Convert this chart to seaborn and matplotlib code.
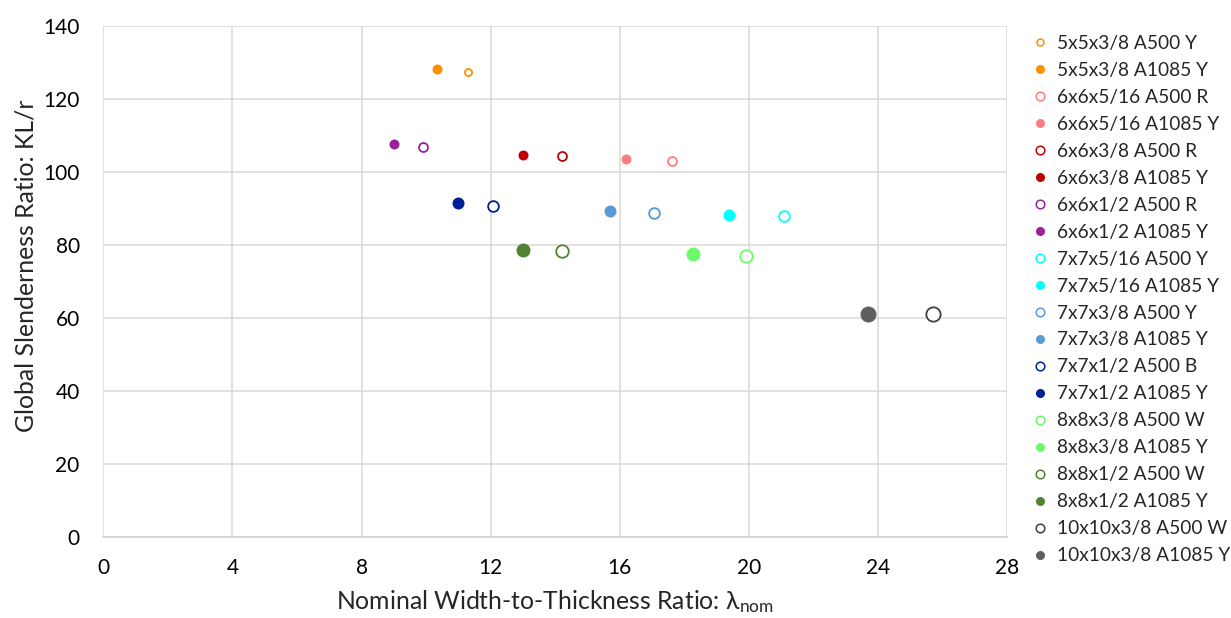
import matplotlib
matplotlib.use("Agg")
import matplotlib.pyplot as plt
from matplotlib.lines import Line2D
import seaborn as sns
import pandas as pd

# Series: section size / steel grade / failure mode
labels = [
    "5x5x3/8 A500 Y", "5x5x3/8 A1085 Y",
    "6x6x5/16 A500 R", "6x6x5/16 A1085 Y",
    "6x6x3/8 A500 R", "6x6x3/8 A1085 Y",
    "6x6x1/2 A500 R", "6x6x1/2 A1085 Y",
    "7x7x5/16 A500 Y", "7x7x5/16 A1085 Y",
    "7x7x3/8 A500 Y", "7x7x3/8 A1085 Y",
    "7x7x1/2 A500 B", "7x7x1/2 A1085 Y",
    "8x8x3/8 A500 W", "8x8x3/8 A1085 Y",
    "8x8x1/2 A500 W", "8x8x1/2 A1085 Y",
    "10x10x3/8 A500 W", "10x10x3/8 A1085 Y",
]
width_thickness = [
    11.29, 10.33,
    17.60, 16.19,
    14.20, 12.99,
    9.90, 9.00,
    21.09, 19.37,
    17.05, 15.69,
    12.08, 10.98,
    19.91, 18.28,
    14.20, 12.99,
    25.69, 23.69,
]
slenderness = [
    127.4, 128.2,
    103.1, 103.5,
    104.4, 104.8,
    106.8, 107.7,
    87.9, 88.4,
    88.8, 89.3,
    90.8, 91.6,
    77.0, 77.5,
    78.4, 78.8,
    61.2, 61.1,
]

# Styling: one colour per section, open markers for A500, filled for A1085
colors = [
    "#FF9000", "#FF9000",
    "#FF7C80", "#FF7C80",
    "#C00000", "#C00000",
    "#9A2199", "#9A2199",
    "#00FFFF", "#00FFFF",
    "#5B9BD5", "#5B9BD5",
    "#001F96", "#001F96",
    "#6CFA6C", "#6CFA6C",
    "#548235", "#548235",
    "#404040", "#5F5F5F",
]
filled = [False, True] * 10
marker_px = [
    8, 10,
    10, 10,
    10, 10,
    10, 10,
    12, 12,
    12, 12,
    12, 12,
    14, 14,
    14, 14,
    16, 16,
]

df = pd.DataFrame({"label": labels, "lam": width_thickness, "klr": slenderness})

sns.set_theme(style="white")
plt.rcParams["font.family"] = ["Lato", "DejaVu Sans"]

fig = plt.figure(figsize=(12.31, 6.18), dpi=100)
ax = fig.add_axes([0.0839, 0.131, 0.7344, 0.8264])

for i, row in df.iterrows():
    d = marker_px[i] * 0.72
    s = d ** 2
    if filled[i]:
        sns.scatterplot(data=df.iloc[[i]], x="lam", y="klr", ax=ax, s=s,
                        color=colors[i], edgecolor=colors[i], linewidth=0,
                        legend=False, zorder=3)
    else:
        sns.scatterplot(data=df.iloc[[i]], x="lam", y="klr", ax=ax, s=s * 0.8,
                        facecolor="white", edgecolor=colors[i], linewidth=1.3,
                        legend=False, zorder=3)

ax.set_xlim(0, 28)
ax.set_ylim(0, 140)
ax.set_xticks(range(0, 29, 4))
ax.set_yticks(range(0, 141, 20))
ax.grid(True, color="#D9D9D9", linewidth=1.1)
ax.set_axisbelow(True)
for side in ["top", "right", "left"]:
    ax.spines[side].set_visible(False)
ax.spines["bottom"].set_color("#D0D0D0")
ax.spines["bottom"].set_linewidth(1.1)
ax.tick_params(axis="both", length=0, labelsize=15, colors="#000000")
ax.tick_params(axis="x", pad=15)
ax.tick_params(axis="y", pad=17)

ax.set_xlabel(r"Nominal Width-to-Thickness Ratio: $\mathregular{\lambda_{nom}}$",
              fontsize=17.8, labelpad=7.5)
ax.set_ylabel("Global Slenderness Ratio: KL/r", fontsize=17.8, labelpad=4)
ax.yaxis.label.set_y(0.532)

handles = []
for i in range(len(labels)):
    if filled[i]:
        h = Line2D([], [], linestyle="none", marker="o", markersize=6.5,
                   markerfacecolor=colors[i], markeredgecolor=colors[i], markeredgewidth=0)
    else:
        h = Line2D([], [], linestyle="none", marker="o",
                   markersize=5.0 if i == 0 else 6.2,
                   markerfacecolor="white", markeredgecolor=colors[i], markeredgewidth=1.1)
    handles.append(h)

fig.legend(handles, labels, loc="upper left", bbox_to_anchor=(0.834, 0.956),
           frameon=False, fontsize=13.8, handlelength=0.6, handletextpad=0.6,
           labelspacing=0.52, borderaxespad=0)

fig.savefig("out.png", dpi=100)
